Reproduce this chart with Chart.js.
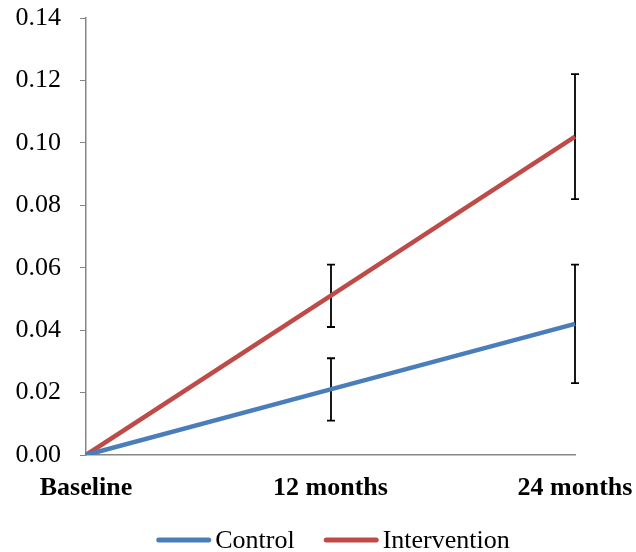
<!DOCTYPE html>
<html>
<head>
<meta charset="utf-8">
<script src="https://cdn.jsdelivr.net/npm/chart.js@4"></script>
<style>
html,body{margin:0;padding:0;background:#fff;}
#wrap{width:636px;height:552px;position:relative;}
</style>
</head>
<body>
<div id="wrap"><canvas id="c" width="636" height="552"></canvas></div>
<script>
const categories = ["Baseline", "12 months", "24 months"];
const controlValues = [0, 0.021, 0.042];
const controlLow = [null, 0.011, 0.023];
const controlHigh = [null, 0.031, 0.061];
const interventionValues = [0, 0.051, 0.102];
const interventionLow = [null, 0.041, 0.082];
const interventionHigh = [null, 0.061, 0.122];
const yTicks = [0, 0.02, 0.04, 0.06, 0.08, 0.10, 0.12, 0.14];

const FONT = 'Liberation Serif';

const errorBars = {
  id: 'errorBars',
  beforeDatasetsDraw(chart) {
    const ctx = chart.ctx;
    const xs = chart.scales.x, ys = chart.scales.y;
    ctx.save();
    ctx.strokeStyle = '#000';
    ctx.lineWidth = 1.8;
    chart.data.datasets.forEach(ds => {
      ds.errLow.forEach((lo, i) => {
        const hi = ds.errHigh[i];
        if (lo == null || hi == null) return;
        const x = Math.round(xs.getPixelForValue(i));
        const y1 = ys.getPixelForValue(lo), y2 = ys.getPixelForValue(hi);
        ctx.beginPath();
        ctx.moveTo(x, y1); ctx.lineTo(x, y2);
        ctx.moveTo(x - 4, y1); ctx.lineTo(x + 4, y1);
        ctx.moveTo(x - 4, y2); ctx.lineTo(x + 4, y2);
        ctx.stroke();
      });
    });
    ctx.restore();
  }
};

const lineLegend = {
  id: 'lineLegend',
  afterDraw(chart) {
    const ctx = chart.ctx;
    const swatch = 55, gap = 4, spacing = 29, cy = 540;
    ctx.save();
    ctx.font = '26px "' + FONT + '"';
    ctx.textBaseline = 'middle';
    const items = chart.data.datasets.map(ds => ({ label: ds.label, color: ds.borderColor, w: ctx.measureText(ds.label).width }));
    let total = 0;
    items.forEach((it, i) => { total += swatch + gap + it.w + (i ? spacing : 0); });
    let x = 333 - total / 2;
    items.forEach((it, i) => {
      if (i) x += spacing;
      ctx.strokeStyle = it.color;
      ctx.lineWidth = 5;
      ctx.lineCap = 'round';
      ctx.beginPath();
      ctx.moveTo(x + 2.5, cy); ctx.lineTo(x + swatch - 2.5, cy);
      ctx.stroke();
      x += swatch + gap;
      ctx.fillStyle = '#000';
      ctx.fillText(it.label, x, cy + 1);
      x += it.w;
    });
    ctx.restore();
  }
};

new Chart(document.getElementById('c'), {
  type: 'line',
  data: {
    labels: categories,
    datasets: [
      { label: 'Control', data: controlValues, errLow: controlLow, errHigh: controlHigh,
        borderColor: '#4a7ebb', backgroundColor: '#4a7ebb', borderWidth: 4.5, pointRadius: 0, tension: 0 },
      { label: 'Intervention', data: interventionValues, errLow: interventionLow, errHigh: interventionHigh,
        borderColor: '#be4b48', backgroundColor: '#be4b48', borderWidth: 4.5, pointRadius: 0, tension: 0 }
    ]
  },
  options: {
    responsive: false,
    animation: false,
    layout: { padding: { top: 18, left: 0, right: 61, bottom: 57 } },
    plugins: {
      legend: { display: false },
      tooltip: { enabled: false }
    },
    scales: {
      x: {
        offset: false,
        afterFit(axis) { axis.height = 40; axis.paddingLeft = 0; axis.paddingRight = 0; },
        grid: { display: false, drawOnChartArea: false, drawTicks: true, tickLength: 5, color: '#868686' },
        border: { color: '#868686', width: 1.5 },
        ticks: { font: { family: FONT, size: 26, weight: 'bold' }, color: '#000', padding: 13, maxRotation: 0, autoSkip: false }
      },
      y: {
        min: 0, max: 0.14,
        afterBuildTicks(axis) { axis.ticks = yTicks.map(v => ({ value: v })); },
        afterFit(axis) { axis.width = 86; axis.paddingTop = 0; axis.paddingBottom = 0; },
        grid: { drawOnChartArea: false, drawTicks: true, tickLength: 6, color: '#868686' },
        border: { color: '#868686', width: 1.5 },
        ticks: { font: { family: FONT, size: 26 }, color: '#000', padding: 19,
          callback: v => Number(v).toFixed(2) }
      }
    }
  },
  plugins: [errorBars, lineLegend]
});
</script>
</body>
</html>
